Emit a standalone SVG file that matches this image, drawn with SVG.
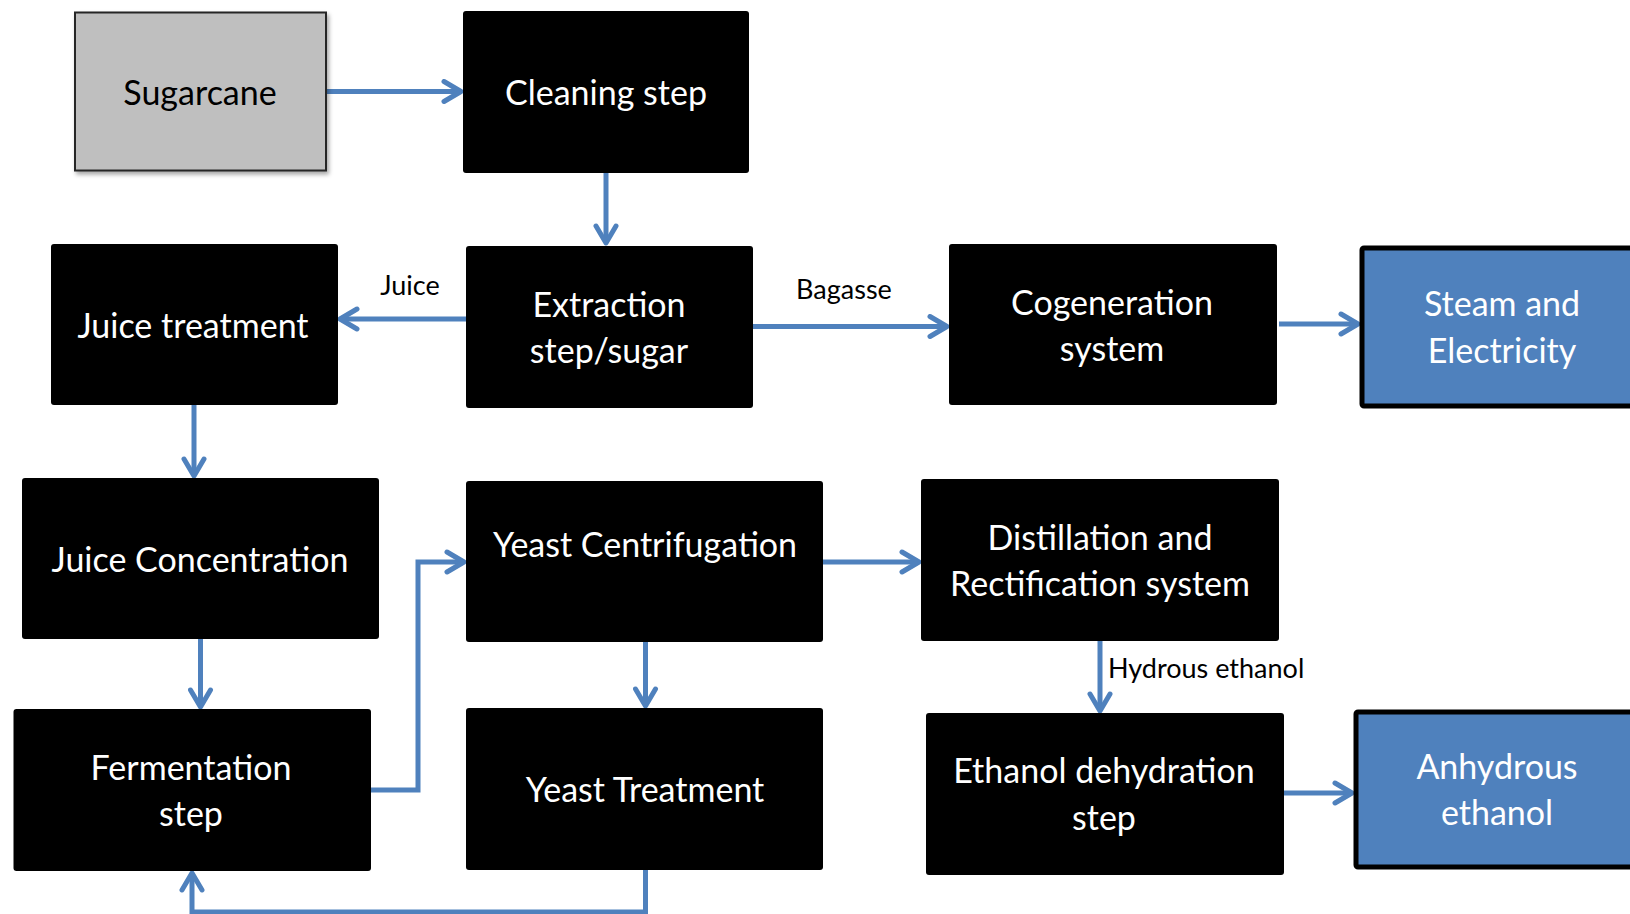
<svg xmlns="http://www.w3.org/2000/svg" width="1630" height="914" viewBox="0 0 1630 914">
<defs>
<style>
.box{fill:#000;}
.blue{fill:#4f81bd;stroke:#000;stroke-width:5;}
.t{font-family:Lato,"Open Sans",sans-serif;font-size:34px;fill:#fff;text-anchor:middle;}
.lbl{font-family:Lato,"Open Sans",sans-serif;font-size:27px;fill:#000;}
.c{fill:none;stroke:#4f81bd;stroke-width:5;}
</style>
<marker id="ah" viewBox="0 0 26 26" refX="22" refY="13" markerWidth="26" markerHeight="26" markerUnits="userSpaceOnUse" orient="auto">
<path d="M5,3 L22,13 L5,23" fill="none" stroke="#4f81bd" stroke-width="5" stroke-linecap="round" stroke-linejoin="round"/>
</marker>
<filter id="sh" x="-10%" y="-10%" width="130%" height="130%">
<feDropShadow dx="2" dy="3" stdDeviation="2" flood-color="#000" flood-opacity="0.35"/>
</filter>
</defs>
<rect width="1630" height="914" fill="#fff"/>
<g id="connectors">
<path class="c" marker-end="url(#ah)" d="M326,91.5 H461"/>
<path class="c" marker-end="url(#ah)" d="M606,172 V243"/>
<path class="c" marker-end="url(#ah)" d="M468,319 H340"/>
<path class="c" marker-end="url(#ah)" d="M753,326.5 H947"/>
<path class="c" marker-end="url(#ah)" d="M1279,324 H1358"/>
<path class="c" marker-end="url(#ah)" d="M194,405 V476"/>
<path class="c" marker-end="url(#ah)" d="M200.5,639 V707"/>
<path class="c" marker-end="url(#ah)" d="M371,790 H418 V562 H464"/>
<path class="c" marker-end="url(#ah)" d="M821,562 H919"/>
<path class="c" marker-end="url(#ah)" d="M645.5,642 V706"/>
<path class="c" marker-end="url(#ah)" d="M645.5,870 V912 H192 V873"/>
<path class="c" marker-end="url(#ah)" d="M1100,641 V711"/>
<path class="c" marker-end="url(#ah)" d="M1284,793 H1352"/>
<text class="lbl" x="410" y="295" text-anchor="middle">Juice</text>
<text class="lbl" x="844" y="299" text-anchor="middle">Bagasse</text>
<text class="lbl" x="1108" y="678">Hydrous ethanol</text>
</g>
<g id="sugarcane">
<rect x="75" y="12.5" width="251" height="158" fill="#bfbfbf" stroke="#262626" stroke-width="2" filter="url(#sh)"/>
<text class="t" x="200" y="105" style="fill:#000">Sugarcane</text>
</g>
<g id="cleaning">
<rect class="box" x="463" y="11" width="286" height="162" rx="3"/>
<text class="t" x="606" y="105">Cleaning step</text>
</g>
<g id="extraction">
<rect class="box" x="466" y="246" width="287" height="162" rx="3"/>
<text class="t" x="609" y="317">Extraction</text>
<text class="t" x="609" y="363">step/sugar</text>
</g>
<g id="juice-treatment">
<rect class="box" x="51" y="244" width="287" height="161" rx="3"/>
<text class="t" x="193" y="338">Juice treatment</text>
</g>
<g id="cogeneration">
<rect class="box" x="949" y="244" width="328" height="161" rx="3"/>
<text class="t" x="1112" y="315">Cogeneration</text>
<text class="t" x="1112" y="361">system</text>
</g>
<g id="steam">
<rect class="blue" x="1362" y="248" width="280" height="158" rx="2"/>
<text class="t" x="1502" y="316">Steam and</text>
<text class="t" x="1502" y="363">Electricity</text>
</g>
<g id="juice-concentration">
<rect class="box" x="22" y="478" width="357" height="161" rx="3"/>
<text class="t" x="200" y="572">Juice Concentration</text>
</g>
<g id="yeast-centrifugation">
<rect class="box" x="466" y="481" width="357" height="161" rx="3"/>
<text class="t" x="645" y="557">Yeast Centrifugation</text>
</g>
<g id="distillation">
<rect class="box" x="921" y="479" width="358" height="162" rx="3"/>
<text class="t" x="1100" y="550">Distillation and</text>
<text class="t" x="1100" y="596">Rectification system</text>
</g>
<g id="fermentation">
<rect class="box" x="13.5" y="709" width="357.5" height="162" rx="3"/>
<text class="t" x="191" y="780">Fermentation</text>
<text class="t" x="191" y="826">step</text>
</g>
<g id="yeast-treatment">
<rect class="box" x="466" y="708" width="357" height="162" rx="3"/>
<text class="t" x="645" y="802">Yeast Treatment</text>
</g>
<g id="dehydration">
<rect class="box" x="926" y="713" width="358" height="162" rx="3"/>
<text class="t" x="1104" y="783">Ethanol dehydration</text>
<text class="t" x="1104" y="830">step</text>
</g>
<g id="anhydrous">
<rect class="blue" x="1356" y="712" width="286" height="155" rx="2"/>
<text class="t" x="1497" y="779">Anhydrous</text>
<text class="t" x="1497" y="825">ethanol</text>
</g>
</svg>
